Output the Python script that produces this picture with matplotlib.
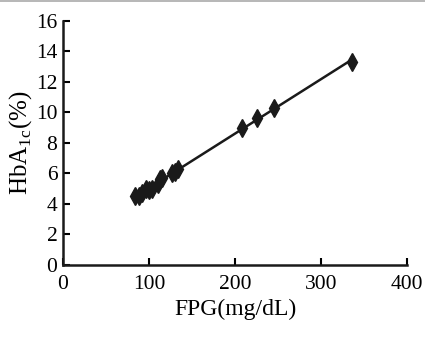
import matplotlib.pyplot as plt
import numpy as np

plt.rcParams['font.family'] = ['Liberation Serif', 'DejaVu Serif']

# FPG (mg/dL) vs HbA1c (%)
fpg = [84, 88, 92, 96, 100, 103, 110, 113, 115, 127, 130, 134, 208, 225, 245, 336]
hba1c = [4.5, 4.5, 4.7, 5.0, 4.9, 5.0, 5.3, 5.6, 5.7, 6.0, 6.1, 6.3, 9.0, 9.6, 10.3, 13.3]

x_ticks = [0, 100, 200, 300, 400]
y_ticks = [0, 2, 4, 6, 8, 10, 12, 14, 16]


def plot_fpg_hba1c():
    fig = plt.figure(figsize=(4.25, 3.37), dpi=100)
    ax = fig.add_axes([0.148, 0.214, 0.81, 0.724])

    x = np.array(fpg)
    y = np.array(hba1c)
    k, b = np.polyfit(x, y, 1)
    xl = np.array([x.min(), x.max()])
    ax.plot(xl, k * xl + b, color='#1a1a1a', linewidth=1.8, zorder=2)
    ax.plot(x, y, linestyle='none', marker='d', markersize=9,
            color='#1a1a1a', zorder=3)

    ax.set_xlim(0, 400)
    ax.set_ylim(0, 16)
    ax.set_xticks(x_ticks)
    ax.set_yticks(y_ticks)
    ax.tick_params(direction='in', length=5, width=1.5, labelsize=15.5)
    ax.tick_params(axis='x', pad=7)
    ax.tick_params(axis='y', pad=4)
    for s in ['top', 'right']:
        ax.spines[s].set_visible(False)
    for s in ['left', 'bottom']:
        ax.spines[s].set_linewidth(1.8)
        ax.spines[s].set_color('#1a1a1a')

    ax.set_xlabel('FPG(mg/dL)', fontsize=17, labelpad=4)
    ax.set_ylabel('HbA$_{\\mathregular{1c}}$(%)', fontsize=18, labelpad=1)

    # thin grey rule along the top edge
    fig.add_artist(plt.Line2D([0, 1], [0.997, 0.997], color='#aaaaaa',
                              linewidth=1.2, transform=fig.transFigure))

    fig.savefig('out.png', dpi=100)


if __name__ == "__main__":
    plot_fpg_hba1c()
